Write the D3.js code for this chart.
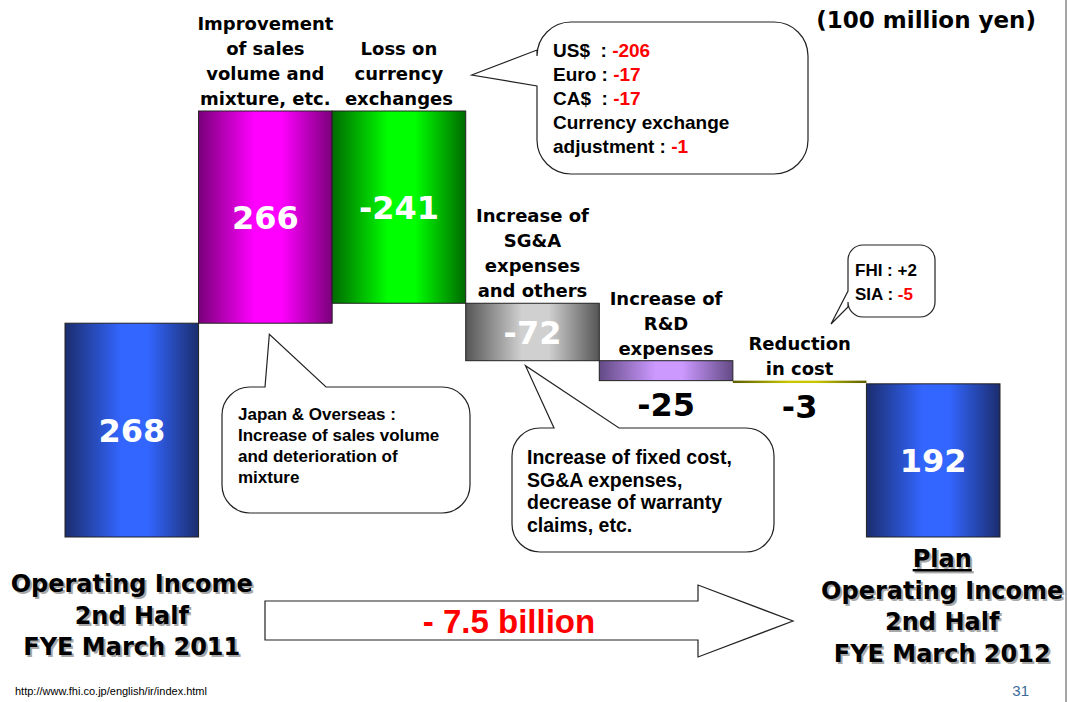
<!DOCTYPE html>
<html lang="en">
    <head>
        <meta charset="utf-8">
        <title>Operating Income Waterfall</title>
        <script type="text/javascript" src="https://d3js.org/d3.v7.min.js"></script>
        <style type="text/css">
            body { margin: 0; background: #fff; }
            text { white-space: pre; }
        </style>
    </head>
    <body>
        <script type="text/javascript">

        //Data
        const stepLabels = [
            [],
            ["Improvement", "of sales", "volume and", "mixture, etc."],
            ["Loss on", "currency", "exchanges"],
            ["Increase of", "SG&A", "expenses", "and others"],
            ["Increase of", "R&D", "expenses"],
            ["Reduction", "in cost"],
            []
        ];
        const values = [268, 266, -241, -72, -25, -3, 192];
        const kinds = ["total", "delta", "delta", "delta", "delta", "delta", "total"];
        const valueLabels = ["268", "266", "-241", "-72", "-25", "-3", "192"];
        const leftTitle = ["Operating Income", "2nd Half", "FYE March 2011"];
        const rightTitle = ["Plan", "Operating Income", "2nd Half", "FYE March 2012"];
        const changeLabel = "- 7.5 billion";
        const unitLabel = "(100 million yen)";

        const currencyNames = ["US$  : ", "Euro : ", "CA$  : ", "adjustment : "];
        const currencyValues = ["-206", "-17", "-17", "-1"];
        const subsidiaryNames = ["FHI : ", "SIA : "];
        const subsidiaryValues = ["+2", "-5"];
        const salesNote = ["Japan & Overseas :", "Increase of sales volume", "and deterioration of", "mixture"];
        const costNote = ["Increase of fixed cost,", "SG&A expenses,", "decrease of warranty", "claims, etc."];

        //Layout
        const width = 1068;
        const height = 702;
        const verdana = "'DejaVu Sans', Verdana, sans-serif";
        const arial = "'Liberation Sans', Arial, sans-serif";

        const gradients = [
            ["#1b2d6e", "#3366ff"],
            ["#7a007a", "#ff00ff"],
            ["#006a00", "#00ff00"],
            ["#555555", "#d0d0d0"],
            ["#634a85", "#cc99ff"],
            ["#5c5c00", "#c8c800"],
            ["#1b2d6e", "#3366ff"]
        ];

        //waterfall
        let running = 0;
        const steps = values.map((v, i) => {
            let y0, y1;
            if (kinds[i] === "total") { y0 = 0; y1 = v; running = v; }
            else { y0 = running; y1 = running + v; running = y1; }
            return {i: i, v: v, lo: Math.min(y0, y1), hi: Math.max(y0, y1)};
        });

        const xScale = d3.scaleBand()
            .domain(d3.range(values.length))
            .range([65, 1000])
            .paddingInner(0);

        const yScale = d3.scaleLinear()
            .domain([0, d3.max(steps, d => d.hi)])
            .range([537, 111]);

        const svg = d3.select("body")
            .append("svg")
            .attr("width", width)
            .attr("height", height);

        const defs = svg.append("defs");
        gradients.forEach((g, i) => {
            const lg = defs.append("linearGradient")
                .attr("id", "grad" + i)
                .attr("x1", "0%").attr("x2", "100%")
                .attr("y1", "0%").attr("y2", "0%");
            [[0, g[0]], [0.42, g[1]], [0.62, g[1]], [1, g[0]]].forEach(s => {
                lg.append("stop").attr("offset", s[0]).attr("stop-color", s[1]);
            });
        });

        //right border
        svg.append("line")
            .attr("x1", 1066).attr("x2", 1066)
            .attr("y1", 0).attr("y2", height)
            .attr("stroke", "#888").attr("stroke-width", 1.5);

        //Bars
        svg.selectAll("rect.bar")
            .data(steps)
            .enter()
            .append("rect")
            .attr("class", "bar")
            .attr("x", d => xScale(d.i))
            .attr("y", d => yScale(d.hi))
            .attr("width", xScale.bandwidth())
            .attr("height", d => yScale(d.lo) - yScale(d.hi))
            .attr("fill", d => "url(#grad" + d.i + ")")
            .attr("stroke", d => Math.abs(d.v) < 5 ? "none" : "#222")
            .attr("stroke-width", 1);

        //Value labels
        svg.selectAll("text.value")
            .data(steps)
            .enter()
            .append("text")
            .attr("class", "value")
            .attr("x", d => xScale(d.i) + xScale.bandwidth() / 2)
            .attr("y", d => {
                const h = yScale(d.lo) - yScale(d.hi);
                if (h > 40) return (yScale(d.lo) + yScale(d.hi)) / 2 + 12;
                return yScale(d.lo) + 35;
            })
            .attr("text-anchor", "middle")
            .attr("font-family", verdana)
            .attr("font-weight", "bold")
            .attr("font-size", "32px")
            .attr("fill", d => (yScale(d.lo) - yScale(d.hi)) > 40 ? "#fff" : "#000")
            .text(d => valueLabels[d.i]);

        //Step labels above bars
        steps.forEach(d => {
            const lines = stepLabels[d.i];
            if (!lines.length) return;
            const cx = xScale(d.i) + xScale.bandwidth() / 2;
            const base = yScale(d.hi) - 6;
            const t = svg.append("text")
                .attr("text-anchor", "middle")
                .attr("font-family", verdana)
                .attr("font-weight", "bold")
                .attr("font-size", "18px")
                .attr("fill", "#000");
            lines.forEach((ln, k) => {
                t.append("tspan")
                    .attr("x", cx)
                    .attr("y", base - (lines.length - 1 - k) * 25)
                    .text(ln);
            });
        });

        //unit
        svg.append("text")
            .attr("x", 1036).attr("y", 28)
            .attr("text-anchor", "end")
            .attr("font-family", verdana)
            .attr("font-weight", "bold")
            .attr("font-size", "23px")
            .text(unitLabel);

        //speech bubbles
        function bubblePath(b) {
            const x = b.x, y = b.y, w = b.w, h = b.h, r = b.r;
            const p = d3.path();
            p.moveTo(x + r, y);
            if (b.side === "top") { p.lineTo(b.a, y); p.lineTo(b.tip[0], b.tip[1]); p.lineTo(b.c, y); }
            p.lineTo(x + w - r, y);
            p.arcTo(x + w, y, x + w, y + r, r);
            p.lineTo(x + w, y + h - r);
            p.arcTo(x + w, y + h, x + w - r, y + h, r);
            p.lineTo(x + r, y + h);
            p.arcTo(x, y + h, x, y + h - r, r);
            if (b.side === "left") { p.lineTo(x, b.a); p.lineTo(b.tip[0], b.tip[1]); p.lineTo(x, b.c); }
            p.lineTo(x, y + r);
            p.arcTo(x, y, x + r, y, r);
            p.closePath();
            return p.toString();
        }

        function drawBubble(b) {
            svg.append("path")
                .attr("d", bubblePath(b))
                .attr("fill", "#fff")
                .attr("stroke", "#222")
                .attr("stroke-width", 1.2);
        }

        function noteText(x, y, lines, size, gap) {
            const t = svg.append("text")
                .attr("font-family", arial)
                .attr("font-weight", "bold")
                .attr("font-size", size + "px")
                .attr("fill", "#000");
            lines.forEach((ln, k) => {
                t.append("tspan").attr("x", x).attr("y", y + k * gap).text(ln);
            });
            return t;
        }

        //currency bubble
        const b3 = xScale(2) + xScale.bandwidth();
        drawBubble({x: 537, y: 22, w: 271, h: 152, r: 34, side: "left", a: 86, c: 50, tip: [b3 + 6, 75]});
        {
            const t = svg.append("text")
                .attr("font-family", arial)
                .attr("font-weight", "bold")
                .attr("font-size", "19px");
            const rows = [0, 1, 2, 4];
            currencyNames.forEach((nm, k) => {
                const ts = t.append("tspan").attr("x", 553).attr("y", 57 + rows[k] * 24);
                ts.append("tspan").attr("fill", "#000").text(nm);
                ts.append("tspan").attr("fill", "#ff0000").text(currencyValues[k]);
            });
            t.append("tspan").attr("x", 553).attr("y", 57 + 3 * 24).attr("fill", "#000").text("Currency exchange");
        }

        //subsidiary bubble
        drawBubble({x: 848, y: 245, w: 87, h: 72, r: 15, side: "left", a: 307, c: 291, tip: [831, 324]});
        {
            const t = svg.append("text")
                .attr("font-family", arial)
                .attr("font-weight", "bold")
                .attr("font-size", "17px");
            subsidiaryNames.forEach((nm, k) => {
                const ts = t.append("tspan").attr("x", 855).attr("y", 276 + k * 24);
                ts.append("tspan").attr("fill", "#000").text(nm);
                ts.append("tspan").attr("fill", subsidiaryValues[k].startsWith("-") ? "#ff0000" : "#000").text(subsidiaryValues[k]);
            });
        }

        //sales note bubble
        const bar2cx = xScale(1) + xScale.bandwidth() / 2;
        drawBubble({x: 222, y: 387, w: 248, h: 126, r: 28, side: "top", a: 265, c: 326, tip: [bar2cx + 4, yScale(steps[1].lo) + 11]});
        noteText(238, 420, salesNote, 17, 21);

        //cost note bubble
        const bar4cx = xScale(3) + xScale.bandwidth() / 2;
        drawBubble({x: 512, y: 428, w: 262, h: 124, r: 28, side: "top", a: 554, c: 619, tip: [bar4cx - 7, yScale(steps[3].lo) + 5]});
        noteText(527, 464, costNote, 19.5, 22.7);

        //bottom titles with shadow
        function shadowTitle(cx, y0, lines, underlineFirst) {
            lines.forEach((ln, k) => {
                const y = y0 + k * 31.5;
                [["#a8a8a8", 2], ["#000", 0]].forEach(s => {
                    svg.append("text")
                        .attr("x", cx + s[1]).attr("y", y + s[1])
                        .attr("text-anchor", "middle")
                        .attr("font-family", verdana)
                        .attr("font-weight", "bold")
                        .attr("font-size", "24px")
                        .attr("fill", s[0])
                        .attr("text-decoration", underlineFirst && k === 0 ? "underline" : null)
                        .text(ln);
                });
            });
        }
        shadowTitle(xScale(0) + xScale.bandwidth() / 2, 592, leftTitle, false);
        shadowTitle(xScale(6) + xScale.bandwidth() / 2 + 9, 567, rightTitle, true);

        //change arrow
        const arrowPts = [[265, 601], [698, 601], [698, 585], [793, 621], [698, 657], [698, 640], [265, 640]];
        svg.append("path")
            .attr("d", d3.line()(arrowPts) + "Z")
            .attr("fill", "#fff")
            .attr("stroke", "#222")
            .attr("stroke-width", 1.2);
        svg.append("text")
            .attr("x", 509).attr("y", 633)
            .attr("text-anchor", "middle")
            .attr("font-family", arial)
            .attr("font-weight", "bold")
            .attr("font-size", "33px")
            .attr("fill", "#ff0000")
            .text(changeLabel);

        //footer
        svg.append("text")
            .attr("x", 15).attr("y", 695)
            .attr("font-family", arial)
            .attr("font-size", "11px")
            .attr("fill", "#000")
            .text("http://www.fhi.co.jp/english/ir/index.html");
        svg.append("text")
            .attr("x", 1029).attr("y", 696)
            .attr("text-anchor", "end")
            .attr("font-family", arial)
            .attr("font-size", "15px")
            .attr("fill", "#3a6a9c")
            .text("31");

        </script>
    </body>
</html>
